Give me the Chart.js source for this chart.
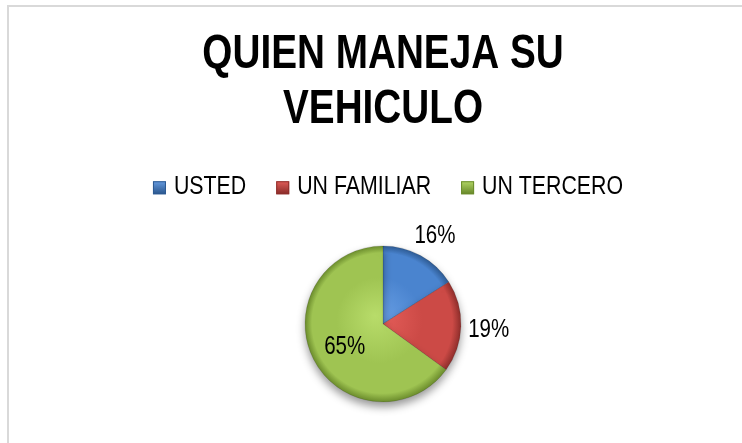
<!DOCTYPE html>
<html>
<head>
<meta charset="utf-8">
<script src="https://cdn.jsdelivr.net/npm/chart.js@4/dist/chart.umd.min.js"></script>
<style>
  html, body { margin: 0; padding: 0; background: #fff; overflow: hidden; }
  #wrap { position: relative; width: 742px; height: 443px; }
  #frame { position: absolute; left: 7px; top: 5px; width: 780px; height: 480px;
           border: 2px solid #d9d9d9; pointer-events: none; }
</style>
</head>
<body>
<div id="wrap">
  <canvas id="pie" width="742" height="443"></canvas>
  <div id="frame"></div>
</div>
<script>
var titleLines = ["QUIEN MANEJA SU", "VEHICULO"];
var categories = ["USTED", "UN FAMILIAR", "UN TERCERO"];
var values = [16, 19, 65];
var baseColors = ["#4a84cf", "#cc4a46", "#9fc452"];
var lightColors = ["#6aa0e6", "#e8605c", "#b8dc6a"];
var darkColors = ["#2d5a92", "#8e2e2b", "#6b8c2c"];
var labelDist = [1.33, 1.33, 0.58];

var family = "'Liberation Sans', Arial, sans-serif";
var squeeze = 0.82; // narrow look of the original font
var titleSqueeze = 0.79;

function narrowText(ctx, text, x, y, sx) {
  ctx.save();
  ctx.translate(x, y);
  ctx.scale(sx || squeeze, 1);
  ctx.fillText(text, 0, 0);
  ctx.restore();
}

// title, legend and percentage labels drawn narrow
var narrowTexts = {
  id: 'narrowTexts',
  beforeDatasetsDraw: function (chart) {
    var ctx = chart.ctx;
    ctx.save();
    ctx.shadowColor = 'rgba(0,0,0,0.4)';
    ctx.shadowBlur = 9;
    ctx.shadowOffsetY = 5;
  },
  afterDatasetsDraw: function (chart) {
    var ctx = chart.ctx;
    ctx.restore();
    var meta = chart.getDatasetMeta(0);
    var total = values.reduce(function (a, b) { return a + b; }, 0);
    ctx.save();
    ctx.font = '25px ' + family;
    ctx.fillStyle = '#000';
    ctx.textAlign = 'center';
    ctx.textBaseline = 'middle';
    meta.data.forEach(function (arc, i) {
      var p = arc.getProps(['x', 'y', 'startAngle', 'endAngle', 'outerRadius'], true);
      var mid = (p.startAngle + p.endAngle) / 2;
      var r = p.outerRadius * labelDist[i];
      narrowText(ctx, Math.round(values[i] / total * 100) + '%', p.x + Math.cos(mid) * r + 2, p.y + Math.sin(mid) * r + 3);
    });
    ctx.restore();
  },
  afterDraw: function (chart) {
    var ctx = chart.ctx;
    var tOpts = chart.options.plugins.title;
    var tb = chart.titleBlock;
    var tSize = tOpts.font.size, tLine = tSize * tOpts.font.lineHeight;
    var cx = (tb.left + tb.right) / 2;
    ctx.save();
    ctx.fillStyle = '#000';
    ctx.textAlign = 'center';
    ctx.textBaseline = 'middle';
    ctx.font = 'bold ' + tSize + 'px ' + family;
    titleLines.forEach(function (line, i) {
      narrowText(ctx, line, cx, tb.top + tOpts.padding.top + tLine * (i + 0.5), titleSqueeze);
    });

    // legend row
    var lg = chart.legend;
    var hb = lg.legendHitBoxes[0];
    var rowY = hb.top + hb.height / 2;
    var box = 13, gap = 8, between = 30;
    ctx.font = '26px ' + family;
    ctx.textAlign = 'left';
    var widths = categories.map(function (c) { return ctx.measureText(c).width * squeeze; });
    var totalW = widths.reduce(function (a, w) { return a + box + gap + w; }, 0) + between * (categories.length - 1);
    var x = (lg.left + lg.right) / 2 - totalW / 2 + 5;
    categories.forEach(function (c, i) {
      var g = ctx.createLinearGradient(0, rowY - box / 2, 0, rowY + box / 2);
      g.addColorStop(0, lightColors[i]);
      g.addColorStop(1, darkColors[i]);
      ctx.fillStyle = g;
      ctx.fillRect(x, rowY - box / 2 + 1, box, box);
      ctx.strokeStyle = darkColors[i];
      ctx.lineWidth = 1;
      ctx.strokeRect(x + 0.5, rowY - box / 2 + 1.5, box - 1, box - 1);
      ctx.fillStyle = '#000';
      narrowText(ctx, c, x + box + gap, rowY);
      x += box + gap + widths[i] + between;
    });
    ctx.restore();
  }
};

function sliceFill(context) {
  var i = context.dataIndex;
  var a = context.chart.chartArea;
  if (!a) return baseColors[i];
  var cx = (a.left + a.right) / 2, cy = (a.top + a.bottom) / 2, r = 78;
  var g = context.chart.ctx.createRadialGradient(cx - 8, cy - 8, 0, cx, cy, r);
  g.addColorStop(0, lightColors[i]);
  g.addColorStop(0.55, baseColors[i]);
  g.addColorStop(0.9, baseColors[i]);
  g.addColorStop(1, darkColors[i]);
  return g;
}

var hidden = 'rgba(0,0,0,0)';

new Chart(document.getElementById('pie'), {
  type: 'pie',
  data: {
    labels: categories,
    datasets: [{
      data: values,
      backgroundColor: sliceFill,
      borderColor: 'rgba(0,0,0,0.12)',
      borderWidth: 1,
      radius: 78
    }]
  },
  options: {
    responsive: false,
    animation: false,
    layout: { padding: { left: 24, right: 0, top: 0, bottom: 5 } },
    plugins: {
      title: {
        display: true,
        text: titleLines,
        color: hidden,
        font: { family: family, size: 49, weight: 'bold', lineHeight: 1.12 },
        padding: { top: 27, bottom: 27 }
      },
      legend: {
        display: true,
        position: 'top',
        labels: {
          color: hidden,
          font: { family: family, size: 26 },
          boxWidth: 13,
          boxHeight: 13,
          padding: 10,
          generateLabels: function () {
            return categories.map(function (c, i) {
              return { text: c, fillStyle: hidden, strokeStyle: hidden, fontColor: hidden, lineWidth: 0, index: i };
            });
          }
        }
      },
      tooltip: { enabled: false }
    }
  },
  plugins: [narrowTexts]
});
</script>
</body>
</html>
